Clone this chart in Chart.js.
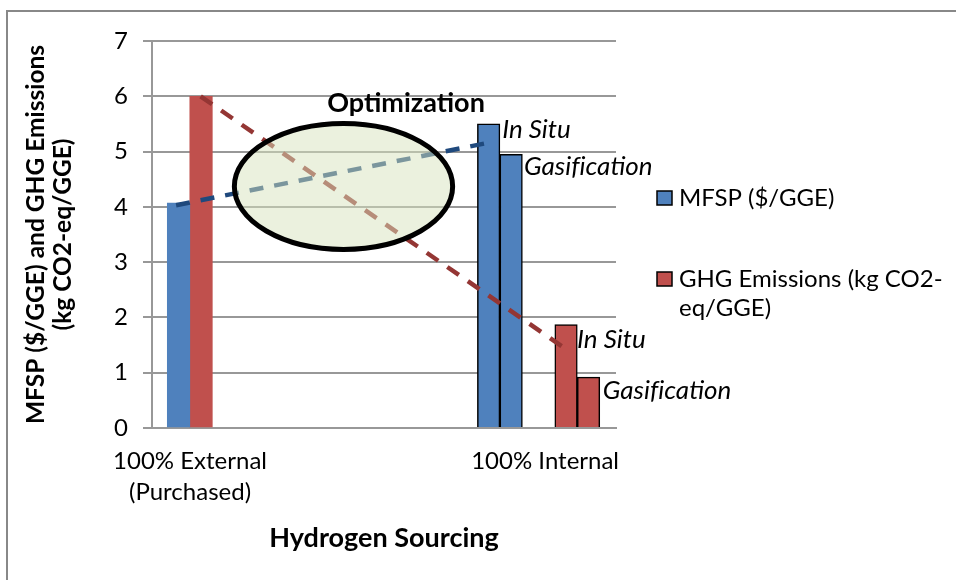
<!DOCTYPE html>
<html>
<head>
<meta charset="utf-8">
<script src="https://cdn.jsdelivr.net/npm/chart.js@4"></script>
<style>
  html, body { margin: 0; padding: 0; background: #fff; }
</style>
</head>
<body>
<canvas id="chart" width="956" height="580"></canvas>
<script>
// =======================
// Datos
const sourcingLabels = [["100% External", "(Purchased)"], "100% Internal"];
const sourcingSlots = [1.69, 17.47];

const mfspName = "MFSP ($/GGE)";
const ghgName = ["GHG Emissions (kg CO2-", "eq/GGE)"];

// barras: externo, in situ, gasificación
const mfspSlots = [1.18, 14.96, 15.96];
const mfspValues = [4.07, 5.5, 4.95];
const ghgSlots = [2.18, 18.4, 19.4];
const ghgValues = [6.0, 1.87, 0.92];

// líneas de tendencia
const mfspTrendSlots = [1.07, 15.2];
const mfspTrendValues = [4.03, 5.18];
const ghgTrendSlots = [2.16, 18.6];
const ghgTrendValues = [6.0, 1.37];

const yMin = 0;
const yMax = 7;
const yStep = 1;
const slotMax = 20.62;

// =======================
// Colores y fuentes
const BLUE = "#4f81bd";
const RED = "#c0504d";
const BLUE_DARK = "#1f497d";
const RED_DARK = "#943634";
const GRID = "#989898";
const FONT = "Lato";
const ZWNJ = "\u200C"; // evita la ligadura "fi"

const points = (xs, ys) => xs.map((x, i) => ({ x, y: ys[i] }));

// anotaciones en coordenadas de datos
const notes = [
  { text: "Optimization", x: 11.29, y: 5.71, style: "bold", size: 27, align: "center" },
  { text: "In Situ", x: 15.56, y: 5.24, style: "italic", size: 26, align: "left" },
  { text: "Gasif" + ZWNJ + "ication", x: 16.53, y: 4.575, style: "italic", size: 26, align: "left" },
  { text: "In Situ", x: 18.89, y: 1.44, style: "italic", size: 26, align: "left" },
  { text: "Gasif" + ZWNJ + "ication", x: 20.03, y: 0.52, style: "italic", size: 26, align: "left" },
];
const ellipse = { x: 8.51, y: 4.37, rx: 4.85, ry: 1.14 };

// =======================
// Plugin: marco, elipse, textos y leyenda
const decorations = {
  id: "decorations",
  beforeDraw(chart) {
    const c = chart.ctx;
    c.save();
    c.fillStyle = "#fff";
    c.fillRect(0, 0, chart.width, chart.height);
    c.strokeStyle = "#888";
    c.lineWidth = 2;
    c.beginPath();
    c.moveTo(7, chart.height);
    c.lineTo(7, 11);
    c.lineTo(chart.width, 11);
    c.stroke();
    c.restore();
  },
  afterDatasetsDraw(chart) {
    const c = chart.ctx;
    const xs = chart.scales.x;
    const ys = chart.scales.y;
    c.save();
    // elipse de optimización
    const cx = xs.getPixelForValue(ellipse.x);
    const cy = ys.getPixelForValue(ellipse.y);
    const rx = xs.getPixelForValue(ellipse.x + ellipse.rx) - cx;
    const ry = cy - ys.getPixelForValue(ellipse.y + ellipse.ry);
    c.beginPath();
    c.ellipse(cx, cy, rx, ry, 0, 0, Math.PI * 2);
    c.fillStyle = "rgba(215,228,189,0.5)";
    c.fill();
    c.lineWidth = 5;
    c.strokeStyle = "#000";
    c.stroke();

    // textos
    c.fillStyle = "#000";
    c.textBaseline = "alphabetic";
    notes.forEach((n) => {
      c.font = `${n.style} ${n.size}px ${FONT}`;
      c.textAlign = n.align;
      c.fillText(n.text, xs.getPixelForValue(n.x), ys.getPixelForValue(n.y));
    });

    // leyenda
    const legend = [
      { color: BLUE, lines: [mfspName], top: 191 },
      { color: RED, lines: ghgName, top: 272 },
    ];
    c.font = `24px ${FONT}`;
    c.textAlign = "left";
    c.textBaseline = "middle";
    legend.forEach((l) => {
      c.fillStyle = l.color;
      c.fillRect(657, l.top, 15, 14);
      c.lineWidth = 1.5;
      c.strokeStyle = "#000";
      c.strokeRect(657, l.top, 15, 14);
      c.fillStyle = "#000";
      l.lines.forEach((t, i) => c.fillText(t, 679, l.top + 7 + i * 29));
    });
    c.restore();
  },
};

// =======================
// Gráfico
new Chart(document.getElementById("chart"), {
  type: "bar",
  data: {
    datasets: [
      {
        type: "line",
        label: "MFSP trend",
        data: points(mfspTrendSlots, mfspTrendValues),
        borderColor: BLUE_DARK,
        borderWidth: 4.5,
        borderDash: [14, 11],
        borderCapStyle: "butt",
        pointRadius: 0,
        order: 0,
      },
      {
        type: "line",
        label: "GHG trend",
        data: points(ghgTrendSlots, ghgTrendValues),
        borderColor: RED_DARK,
        borderWidth: 4.5,
        borderDash: [14, 11],
        borderCapStyle: "butt",
        pointRadius: 0,
        order: 0,
      },
      {
        label: mfspName,
        data: points(mfspSlots, mfspValues),
        backgroundColor: BLUE,
        borderColor: "#000",
        borderWidth: (ctx) => (ctx.dataIndex > 0 ? 1.5 : 0),
        barThickness: 22.5,
        grouped: false,
        order: 1,
      },
      {
        label: ghgName.join(""),
        data: points(ghgSlots, ghgValues),
        backgroundColor: RED,
        borderColor: "#000",
        borderWidth: (ctx) => (ctx.dataIndex > 0 ? 1.5 : 0),
        barThickness: 22.5,
        grouped: false,
        order: 1,
      },
    ],
  },
  options: {
    responsive: false,
    animation: false,
    layout: { padding: { top: 41, right: 340, bottom: 0, left: 0 } },
    plugins: {
      legend: { display: false },
      tooltip: { enabled: false },
    },
    scales: {
      x: {
        type: "linear",
        min: 0,
        max: slotMax,
        offset: false,
        afterFit: (s) => {
          s.height = 152;
        },
        afterBuildTicks: (s) => {
          s.ticks = sourcingSlots.map((v) => ({ value: v }));
        },
        grid: { display: false, drawTicks: false },
        border: { color: GRID, width: 2 },
        ticks: {
          autoSkip: false,
          maxRotation: 0,
          padding: 18,
          color: "#000",
          font: { family: FONT, size: 24, lineHeight: 1.29 },
          callback: (v, i) => sourcingLabels[i],
        },
        title: {
          display: true,
          text: "Hydrogen Sourcing",
          color: "#000",
          font: { family: FONT, size: 27, weight: "bold", lineHeight: 1.2 },
          padding: { top: 0, bottom: 25.8 },
        },
      },
      y: {
        min: yMin,
        max: yMax,
        afterFit: (s) => {
          s.width = 152;
        },
        ticks: {
          stepSize: yStep,
          padding: 15,
          color: "#000",
          font: { family: FONT, size: 24 },
        },
        grid: { color: GRID, lineWidth: 2, tickLength: 9 },
        border: { color: GRID, width: 2 },
        title: {
          display: true,
          text: ["MFSP ($/GGE) and GHG Emissions", "(kg CO2-eq/GGE)"],
          color: "#000",
          font: { family: FONT, size: 24.5, weight: "bold", lineHeight: 1.1 },
          padding: { top: 22.5, bottom: 0 },
        },
      },
    },
  },
  plugins: [decorations],
});
</script>
</body>
</html>
